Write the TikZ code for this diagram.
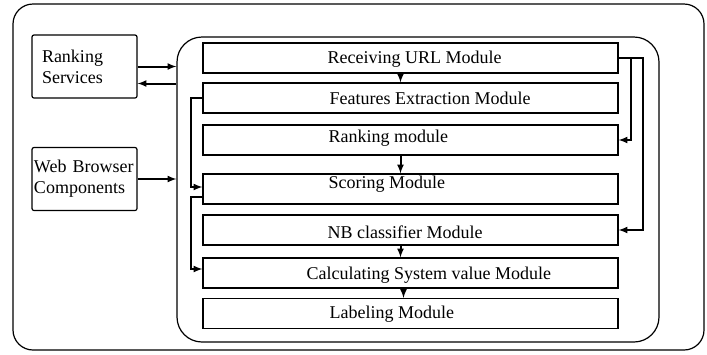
\documentclass[tikz,border=0pt]{standalone}
\usepackage{fontspec}
\setmainfont{Liberation Serif}
\usetikzlibrary{calc}

\tikzset{
  module/.style={draw, line width=1.2pt, minimum width=415pt, minimum height=30pt, inner sep=0pt},
  side/.style={draw, line width=1.2pt, rounded corners=2pt, minimum width=105pt, minimum height=63pt, align=left},
  link/.style={line width=2pt, -latex}
}

\begin{document}
\begin{tikzpicture}[x=1pt, y=-1pt, font=\fontsize{18}{21}\selectfont]
  \useasboundingbox (0,0) rectangle (707,354);

  % outer frame and module container
  \draw[line width=1.2pt, rounded corners=20pt] (13,4) rectangle (704,350);
  \node[draw, line width=1.2pt, rounded corners=25pt, minimum width=482pt, minimum height=305pt] (engine) at (418,189.5) {};

  % outside services
  \node[side, inner xsep=10pt, text width=85pt] (services) at (84.5,66.5) {Ranking\\Services};
  \node[side, inner xsep=2pt, inner ysep=6pt, text width=101pt] (browser) at (84.5,179) {Web Browser\\Components};

  % modules
  \node[module] (recv) at (410.5,58) {};
  \node[module] (feat) at (410.5,98) {};
  \node[module] (rankm) at (410.5,140) {};
  \node[module] (score) at (410.5,189) {};
  \node[module] (nb) at (410.5,230) {};
  \node[module] (calc) at (410.5,273) {};
  \node[module] (lab) at (410.5,313.5) {};

  \node[anchor=west] (recvtext) at (324,59) {Receiving URL Module};
  \node[anchor=west] (feattext) at (326,98) {Features Extraction Module};
  \node[anchor=west] (ranktext) at (325,138) {Ranking module};
  \node[anchor=west] (scoretext) at (325,184) {Scoring Module};
  \node[anchor=west] (nbtext) at (324,232) {NB classifier Module};
  \node[anchor=west] (calctext) at (303,275) {Calculating System value Module};
  \node[anchor=west] (labtext) at (326,314) {Labeling Module};

  % connections
  \draw[link] (services.east) -- (services.east -| engine.west);
  \draw[link] ($(engine.west |- services.east)+(0,17)$) -- ($(services.east)+(0,17)$);
  \draw[link] (browser.east) -- (browser.east -| engine.west);

  \draw[link] ([xshift=-10pt]recv.south) -- ([xshift=-10pt]feat.north);
  \draw[link] ([xshift=-10pt]rankm.south) -- ([xshift=-10pt]score.north);
  \draw[link] ([xshift=-10pt]nb.south) -- ([xshift=-10pt]calc.north);
  \draw[link] ([xshift=-7pt]calc.south) -- ([xshift=-7pt]lab.north);

  \draw[link] (recv.east) -- ++(12,0) |- (rankm.east);
  \draw[link] (recv.east) -- ++(24,0) |- (nb.east);

  \draw[link] (feat.west) -- ++(-11,0) |- ([yshift=2pt]score.west);
  \draw[link] ([yshift=-8pt]score.west) -- ++(-11,0) |- ([yshift=4pt]calc.west);

\end{tikzpicture}
\end{document}
